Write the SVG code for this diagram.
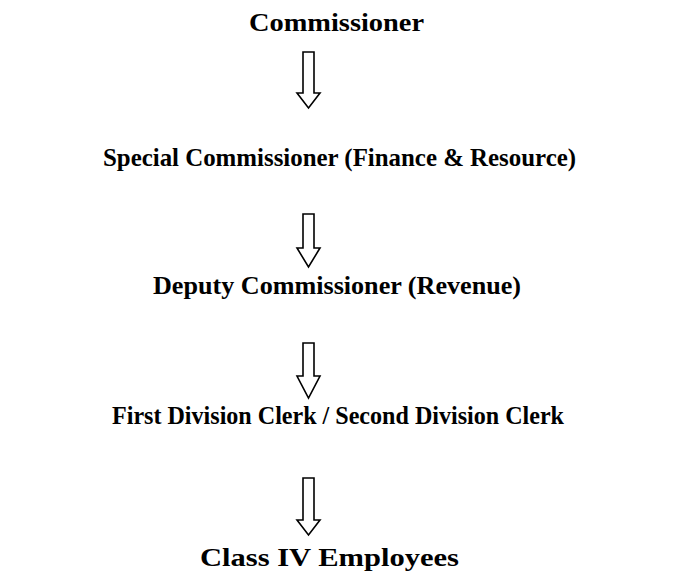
<svg xmlns="http://www.w3.org/2000/svg" width="677" height="583" viewBox="0 0 677 583">
<style>
.t{font-family:"Liberation Serif","DejaVu Serif",serif;font-weight:bold;font-size:26px;fill:#000;text-anchor:middle}
.a{fill:#fff;stroke:#000;stroke-width:1.6;stroke-linejoin:miter}
</style>
<rect width="677" height="583" fill="#fff"/>
<g id="n1"><text class="t" x="336.5" y="31" textLength="175" lengthAdjust="spacingAndGlyphs">Commissioner</text></g>
<g id="n2"><text class="t" x="339.5" y="166" textLength="473" lengthAdjust="spacingAndGlyphs">Special Commissioner (Finance &amp; Resource)</text></g>
<g id="n3"><text class="t" x="337" y="294" textLength="368" lengthAdjust="spacingAndGlyphs">Deputy Commissioner (Revenue)</text></g>
<g id="n4"><text class="t" x="338" y="424" textLength="452" lengthAdjust="spacingAndGlyphs">First Division Clerk / Second Division Clerk</text></g>
<g id="n5"><text class="t" x="329.5" y="566" textLength="259" lengthAdjust="spacingAndGlyphs">Class IV Employees</text></g>
<g id="connectors">
<path class="a" d="M303,52 H314 V93 H320 L308.5,108 L297,93 H303 Z"/>
<path class="a" d="M303,214 H314 V248 H320 L308.5,267 L297,248 H303 Z"/>
<path class="a" d="M303,343 H314 V376 H320 L308.5,398 L297,376 H303 Z"/>
<path class="a" d="M303,478 H314 V520 H320 L308.5,535 L297,520 H303 Z"/>
</g>
</svg>
